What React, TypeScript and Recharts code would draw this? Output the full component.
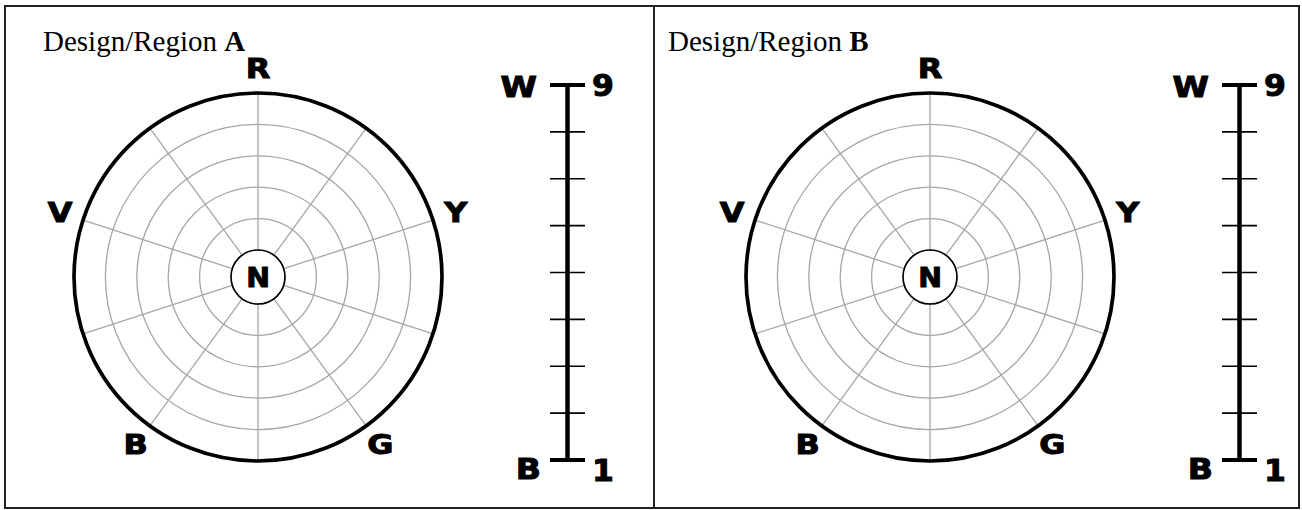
import React from 'react';
import {
  RadarChart,
  PolarGrid,
  PolarAngleAxis,
  PolarRadiusAxis,
  ComposedChart,
  XAxis,
  YAxis,
  CartesianGrid,
  ReferenceLine,
} from 'recharts';

// ---------- data ----------
const panelNames = ['A', 'B'];
const hueSpokes = ['R', 'RY', 'Y', 'YG', 'G', 'GB', 'B', 'BV', 'V', 'VR'];
const hueLabels = ['R', 'Y', 'G', 'B', 'V'];
const chromaDomain = [0, 5];
const chromaTickCount = 6;
const centerLabel = 'N';
const valueSteps = [1, 2, 3, 4, 5, 6, 7, 8, 9];
const valueEnds = [1, 9];
const valueEndLetters: Record<number, string> = { 9: 'W', 1: 'B' };

const hueData = hueSpokes.map((hue) => ({ hue }));
const valueData = valueSteps.map((value) => ({ value, x: 1 }));

// ---------- layout ----------
const W = 1302;
const H = 510;
const PANEL_X = [0, 672];
const CX = 258;
const CY = 277;
const R_OUT = 184;
const R_IN = 27;
const LABEL_FONT = '"DejaVu Sans", "Liberation Sans", Arial, sans-serif';

const BoldLabel = ({
  x,
  y,
  anchor,
  size,
  sx,
  children,
}: {
  x: number;
  y: number;
  anchor: 'start' | 'middle' | 'end';
  size: number;
  sx: number;
  children: React.ReactNode;
}) => (
  <g transform={`translate(${x},${y}) scale(${sx},1)`}>
    <text
      x={0}
      y={0}
      textAnchor={anchor}
      dominantBaseline="central"
      fontFamily={LABEL_FONT}
      fontWeight="bold"
      fontSize={size}
      fill="#000"
      stroke="#000"
      strokeWidth={1}
    >
      {children}
    </text>
  </g>
);

const HueTick = (props: any) => {
  const { x, y, payload } = props;
  if (!hueLabels.includes(payload.value)) return <g />;
  return (
    <BoldLabel x={x} y={y} anchor="middle" size={27} sx={1.18}>
      {payload.value}
    </BoldLabel>
  );
};

const LeftValueTick = (props: any) => {
  const { x, y, payload } = props;
  const letter = valueEndLetters[payload.value];
  if (!letter) return <g />;
  const low = payload.value === valueEnds[0];
  return (
    <BoldLabel x={x + (low ? 4 : 0)} y={y + (low ? 9 : 2)} anchor="end" size={28} sx={1.18}>
      {letter}
    </BoldLabel>
  );
};

const RightValueTick = (props: any) => {
  const { x, y, payload } = props;
  const low = payload.value === valueEnds[0];
  return (
    <BoldLabel x={x} y={y + (low ? 10 : 0)} anchor="start" size={30} sx={1.05}>
      {payload.value}
    </BoldLabel>
  );
};

const Panel = ({ left }: { name: string; left: number }) => (
  <>
    <div style={{ position: 'absolute', left, top: 0 }}>
      <RadarChart
        width={500}
        height={H}
        data={hueData}
        cx={CX}
        cy={CY}
        innerRadius={R_IN}
        outerRadius={R_OUT}
        margin={{ top: 0, right: 0, bottom: 0, left: 0 }}
      >
        <PolarGrid gridType="circle" stroke="#a6a6a6" strokeWidth={1.3} />
        <PolarGrid
          gridType="circle"
          radialLines={false}
          polarRadius={[R_IN]}
          stroke="#000"
          strokeWidth={1.6}
        />
        <PolarRadiusAxis
          type="number"
          domain={chromaDomain}
          allowDataOverflow
          tickCount={chromaTickCount}
          tick={false}
          axisLine={false}
        />
        <PolarAngleAxis
          dataKey="hue"
          axisLineType="circle"
          axisLine={{ stroke: '#000', strokeWidth: 3.7 }}
          tickLine={false}
          tickSize={24}
          tick={HueTick}
        />
        <BoldLabel x={CX} y={CY + 1} anchor="middle" size={27} sx={1.05}>
          {centerLabel}
        </BoldLabel>
      </RadarChart>
    </div>
    <div style={{ position: 'absolute', left: left + 490, top: 60 }}>
      <ComposedChart
        width={140}
        height={440}
        data={valueData}
        margin={{ top: 25, right: 0, bottom: 40, left: 0 }}
      >
        <XAxis type="number" dataKey="x" domain={[0, 2]} allowDataOverflow hide />
        <YAxis
          type="number"
          dataKey="value"
          domain={[valueSteps[0], valueSteps[valueSteps.length - 1]]}
          allowDataOverflow
          ticks={valueSteps}
          width={60}
          axisLine={false}
          tickLine={false}
          tickSize={0}
          tickMargin={13}
          tick={LeftValueTick}
          interval={0}
        />
        <YAxis
          yAxisId="r"
          orientation="right"
          type="number"
          dataKey="value"
          domain={[valueSteps[0], valueSteps[valueSteps.length - 1]]}
          allowDataOverflow
          ticks={valueEnds}
          width={45}
          axisLine={false}
          tickLine={false}
          tickSize={0}
          tickMargin={7}
          tick={RightValueTick}
          interval={0}
        />
        <CartesianGrid vertical={false} stroke="#000" strokeWidth={1.6} />
        <ReferenceLine x={1} stroke="#000" strokeWidth={4.5} />
        {valueEnds.map((v) => (
          <ReferenceLine key={v} y={v} stroke="#000" strokeWidth={4} />
        ))}
      </ComposedChart>
    </div>
  </>
);

export default function App() {
  return (
    <div style={{ position: 'absolute', left: 0, top: 0, width: W, height: H, background: '#fff' }}>
      <svg width={W} height={H} style={{ position: 'absolute', left: 0, top: 0 }}>
        <rect x={5} y={6} width={1294} height={502} fill="none" stroke="#222" strokeWidth={2} />
        <line x1={654} y1={6} x2={654} y2={508} stroke="#222" strokeWidth={2} />
        {panelNames.map((n, i) => (
          <text
            key={n}
            x={i === 0 ? 43 : 668}
            y={51}
            fontFamily='"Liberation Serif", "Times New Roman", serif'
            fontSize={29}
            fill="#000"
          >
            Design/Region <tspan fontWeight="bold">{n}</tspan>
          </text>
        ))}
      </svg>
      {panelNames.map((n, i) => (
        <Panel key={n} name={n} left={PANEL_X[i]} />
      ))}
    </div>
  );
}
